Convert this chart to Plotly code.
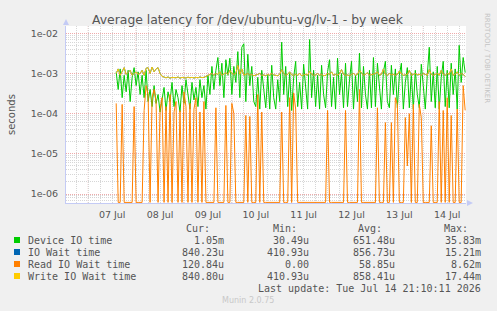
import plotly.graph_objects as go
import pandas as pd

# ---------------- data (values in microseconds, hourly) ----------------
title = "Average latency for /dev/ubuntu-vg/lv-1 - by week"
series_start = "2026-07-07 14:00"

device_io_us = [
    1100, 400, 1300, 250, 900, 350, 1200, 200, 800, 1400,
    500, 1100, 300, 900, 250, 1200, 200, 400, 150, 500,
    180, 300, 110, 250, 450, 120, 350, 200, 600, 150,
    400, 250, 110, 500, 180, 700, 300, 130, 600, 220,
    450, 150, 700, 250, 500, 130, 900, 300, 1500, 400,
    1200, 2500, 500, 1800, 250, 2200, 900, 2400, 300, 1500,
    600, 3500, 250, 4500, 5500, 200, 3000, 500, 1500, 200,
    150, 800, 130, 1200, 400, 140, 900, 130, 1600, 250,
    130, 700, 200, 6000, 300, 1500, 150, 1000, 120, 800,
    2000, 150, 600, 130, 1700, 400, 130, 7000, 250, 1200,
    150, 900, 130, 1600, 300, 140, 1100, 2200, 150, 800,
    130, 2400, 300, 1000, 140, 1800, 150, 700, 2000, 130,
    900, 200, 3200, 140, 1500, 300, 130, 1200, 140, 2500,
    150, 1800, 400, 130, 1100, 2000, 200, 140, 1600, 300,
    1300, 140, 900, 1800, 130, 600, 1400, 140, 1000, 130,
    1200, 300, 140, 1700, 500, 130, 900, 4500, 200, 1100,
    140, 1500, 130, 800, 2000, 150, 1200, 140, 1800, 300,
    1300, 130, 5000, 600, 2500, 1050,
]

io_wait_us = [
    1000, 1300, 900, 1100, 1400, 950, 1050, 1200, 900, 1000,
    1100, 950, 1000, 1200, 900, 1350, 1400, 1000, 1450, 1100,
    1300, 1400, 1000, 850, 800, 780, 820, 760, 800, 790,
    780, 820, 760, 800, 790, 770, 810, 780, 800, 770,
    800, 780, 820, 790, 800, 850, 900, 950, 1000, 900,
    1000, 950, 1100, 900, 1000, 1050, 950, 1200, 1000, 950,
    1000, 1600, 950, 1300, 900, 950, 1000, 900, 950, 880,
    900, 950, 1000, 900, 920, 880, 950, 900, 1000, 920,
    900, 880, 950, 1250, 1000, 900, 950, 1100, 920, 900,
    950, 900, 1000, 880, 920, 950, 900, 1150, 950, 900,
    920, 1000, 900, 950, 880, 900, 1000, 950, 1100, 900,
    950, 900, 1000, 1250, 950, 900, 920, 880, 950, 1000,
    900, 950, 1200, 1000, 900, 950, 1050, 900, 920, 950,
    1000, 1100, 900, 950, 1300, 950, 900, 1000, 920, 950,
    900, 950, 1150, 1000, 900, 920, 950, 1200, 900, 950,
    1000, 920, 950, 900, 1000, 950, 900, 1250, 950, 900,
    950, 1000, 900, 1200, 950, 900, 1000, 950, 1300, 900,
    950, 1100, 900, 1000, 950, 840.23,
]

read_wait_us = [
    180, 0, 0, 170, 0, 0, 0, 0, 0, 150,
    0, 0, 0, 0, 120, 500, 300, 0, 250, 400,
    200, 0, 130, 250, 0, 150, 0, 300, 0, 110,
    200, 0, 120, 0, 350, 150, 0, 180, 0, 130,
    250, 0, 110, 0, 200, 0, 0, 0, 0, 0,
    140, 0, 0, 0, 0, 160, 0, 0, 180, 100,
    0, 0, 0, 0, 0, 90, 0, 85, 0, 0,
    0, 300, 0, 110, 0, 0, 0, 0, 0, 0,
    0, 0, 0, 110, 0, 0, 0, 250, 0, 330,
    130, 0, 0, 0, 0, 0, 0, 0, 0, 0,
    0, 0, 0, 0, 0, 0, 120, 0, 0, 0,
    0, 0, 0, 0, 0, 120, 0, 0, 0, 0,
    0, 0, 400, 0, 0, 0, 0, 0, 0, 0,
    0, 140, 0, 0, 0, 60, 0, 0, 60, 0,
    250, 170, 0, 0, 0, 80, 5, 100, 0, 170,
    0, 0, 170, 80, 0, 0, 0, 0, 50, 0,
    0, 0, 200, 0, 120, 0, 250, 0, 90, 0,
    0, 130, 0, 0, 500, 120.84,
]

write_wait_us = [
    1000, 1300, 900, 1100, 1400, 950, 1050, 1200, 900, 1000,
    1100, 950, 1000, 1200, 900, 1350, 1400, 1000, 1450, 1100,
    1300, 1400, 1000, 850, 800, 780, 820, 760, 800, 790,
    780, 820, 760, 800, 790, 770, 810, 780, 800, 770,
    800, 780, 820, 790, 800, 850, 900, 950, 1000, 900,
    1000, 950, 1100, 900, 1000, 1050, 950, 1200, 1000, 950,
    1000, 1600, 950, 1300, 900, 950, 1000, 900, 950, 880,
    900, 950, 1000, 900, 920, 880, 950, 900, 1000, 920,
    900, 880, 950, 1250, 1000, 900, 950, 1100, 920, 900,
    950, 900, 1000, 880, 920, 950, 900, 1150, 950, 900,
    920, 1000, 900, 950, 880, 900, 1000, 950, 1100, 900,
    950, 900, 1000, 1250, 950, 900, 920, 880, 950, 1000,
    900, 950, 1200, 1000, 900, 950, 1050, 900, 920, 950,
    1000, 1100, 900, 950, 1300, 950, 900, 1000, 920, 950,
    900, 950, 1150, 1000, 900, 920, 950, 1200, 900, 950,
    1000, 920, 950, 900, 1000, 950, 900, 1250, 950, 900,
    950, 1000, 900, 1200, 950, 900, 1000, 950, 1300, 900,
    950, 1100, 900, 1000, 950, 840.80,
]

series_names = ["Device IO time", "IO Wait time", "Read IO Wait time", "Write IO Wait time"]
series_colors = ["#00CC00", "#0066B3", "#FF8000", "#FFCC00"]
stat_cur = ["1.05m", "840.23u", "120.84u", "840.80u"]
stat_min = ["30.49u", "410.93u", "0.00", "410.93u"]
stat_avg = ["651.48u", "856.73u", "58.85u", "858.41u"]
stat_max = ["35.83m", "15.21m", "8.62m", "17.44m"]

day_labels = ["07 Jul", "08 Jul", "09 Jul", "10 Jul", "11 Jul", "12 Jul", "13 Jul", "14 Jul"]
label_times = pd.date_range("2026-07-07 12:00", periods=len(day_labels), freq="D")
midnights = pd.date_range("2026-07-07 00:00", periods=len(day_labels), freq="D")
x_range = ["2026-07-06 12:50", "2026-07-14 21:25"]

y_tick_vals = [1e-6, 1e-5, 1e-4, 1e-3, 1e-2]
y_tick_text = ["1e-06", "1e-05", "1e-04", "1e-03", "1e-02"]
y_log_range = [-6.224, -1.818]
last_update = "Last update: Tue Jul 14 21:10:11 2026"
footer = "Munin 2.0.75"

# ---------------- figure ----------------
W, H = 497, 311
PL, PR, PT, PB = 66, 466, 26, 203  # plot area in px


def ax(px):
    return (px - PL) / (PR - PL)


def ay(py):
    return (PB - py) / (PB - PT)


times = pd.date_range(series_start, periods=len(device_io_us), freq="h")
floor_val = 10 ** (y_log_range[0] + 0.015)  # rrdtool draws zero at the bottom of a log graph

fig = go.Figure()
all_series = [device_io_us, io_wait_us, read_wait_us, write_wait_us]
for name, color, vals in zip(series_names, series_colors, all_series):
    yv = [v / 1e6 if v > 0 else floor_val for v in vals]
    fig.add_trace(go.Scatter(x=times, y=yv, mode="lines", name=name,
                             line=dict(color=color, width=1), showlegend=False))

grid_minor = "#d6d6d6"
grid_major = "#eeaaaa"
dash = "1px,1px"
text_col = "#555555"

shapes = []
for m in midnights:
    shapes.append(dict(type="line", xref="x", yref="paper", x0=m, x1=m, y0=0, y1=1,
                       line=dict(color=grid_major, width=1, dash=dash), layer="below"))

# axis arrows
shapes.append(dict(type="path", xref="paper", yref="paper",
                   path=f"M {ax(63)} {ay(25)} L {ax(69)} {ay(25)} L {ax(66)} {ay(19)} Z",
                   fillcolor="#c4cbf5", line=dict(width=0)))
shapes.append(dict(type="path", xref="paper", yref="paper",
                   path=f"M {ax(467)} {ay(200)} L {ax(467)} {ay(206)} L {ax(473)} {ay(203)} Z",
                   fillcolor="#c4cbf5", line=dict(width=0)))

# legend squares
row_y = [240, 252, 264, 276]
for ry, color in zip(row_y, series_colors):
    shapes.append(dict(type="rect", xref="paper", yref="paper",
                       x0=ax(14), x1=ax(20), y0=ay(ry + 3), y1=ay(ry - 3),
                       fillcolor=color, line=dict(width=0)))

mono = "DejaVu Sans Mono"
ann = []
ann.append(dict(text=title, x=ax(248), y=ay(19), xref="paper", yref="paper",
                showarrow=False, xanchor="center", yanchor="middle",
                font=dict(family="DejaVu Sans", size=12.4, color=text_col)))
ann.append(dict(text="seconds", x=ax(12), y=ay(115), xref="paper", yref="paper",
                showarrow=False, textangle=-90, xanchor="center", yanchor="middle",
                font=dict(family="DejaVu Sans", size=10, color=text_col)))
ann.append(dict(text="RRDTOOL / TOBI OETIKER", x=ax(487), y=ay(58), xref="paper", yref="paper",
                showarrow=False, textangle=90, xanchor="center", yanchor="middle",
                font=dict(family="DejaVu Sans", size=7, color="#c4c4c4")))

headers = ["Cur:", "Min:", "Avg:", "Max:"]
header_x = [212, 299, 384, 470]
value_x = [226, 311, 397, 483]
for h, hx in zip(headers, header_x):
    ann.append(dict(text=h, x=ax(hx), y=ay(228), xref="paper", yref="paper",
                    showarrow=False, xanchor="right", yanchor="middle",
                    font=dict(family=mono, size=10, color=text_col)))
for i, ry in enumerate(row_y):
    ann.append(dict(text=series_names[i], x=ax(26), y=ay(ry), xref="paper", yref="paper",
                    showarrow=False, xanchor="left", yanchor="middle",
                    font=dict(family=mono, size=10, color=text_col)))
    for col, vx in zip([stat_cur, stat_min, stat_avg, stat_max], value_x):
        ann.append(dict(text=col[i], x=ax(vx), y=ay(ry), xref="paper", yref="paper",
                        showarrow=False, xanchor="right", yanchor="middle",
                        font=dict(family=mono, size=10, color=text_col)))
ann.append(dict(text=last_update, x=ax(483), y=ay(288), xref="paper", yref="paper",
                showarrow=False, xanchor="right", yanchor="middle",
                font=dict(family=mono, size=10, color=text_col)))
ann.append(dict(text=footer, x=ax(248), y=ay(300), xref="paper", yref="paper",
                showarrow=False, xanchor="center", yanchor="middle",
                font=dict(family="DejaVu Sans", size=8, color="#c8c8c8")))

minor_y = [k * 10 ** e for e in range(-7, -1) for k in range(2, 10)]

fig.update_layout(
    width=W, height=H,
    margin=dict(l=PL, r=W - PR, t=PT, b=H - PB, pad=0),
    paper_bgcolor="#F0F0F0", plot_bgcolor="#FFFFFF",
    showlegend=False,
    shapes=shapes, annotations=ann,
    xaxis=dict(type="date", range=x_range, tickmode="array", tickvals=label_times,
               ticktext=day_labels, ticks="", showgrid=True, gridcolor=grid_minor,
               griddash=dash, gridwidth=1, zeroline=False, ticklabelstandoff=3,
               showline=True, linecolor="#c4cbf5", linewidth=1,
               tickfont=dict(family="DejaVu Sans", size=9.5, color=text_col),
               minor=dict(dtick=6 * 3600 * 1000, tick0="2026-07-06 00:00", showgrid=True,
                          gridcolor=grid_minor, griddash=dash, gridwidth=1, ticks="")),
    yaxis=dict(type="log", range=y_log_range, tickmode="array", tickvals=y_tick_vals,
               ticktext=y_tick_text, ticks="", showgrid=True, gridcolor=grid_major,
               griddash=dash, gridwidth=1, zeroline=False, ticklabelstandoff=5,
               showline=True, linecolor="#c4cbf5", linewidth=1,
               tickfont=dict(family="DejaVu Sans", size=9.5, color=text_col),
               minor=dict(tickmode="array", tickvals=minor_y, showgrid=True,
                          gridcolor=grid_minor, griddash=dash, gridwidth=1, ticks="")),
)

fig.write_html("out.html")
